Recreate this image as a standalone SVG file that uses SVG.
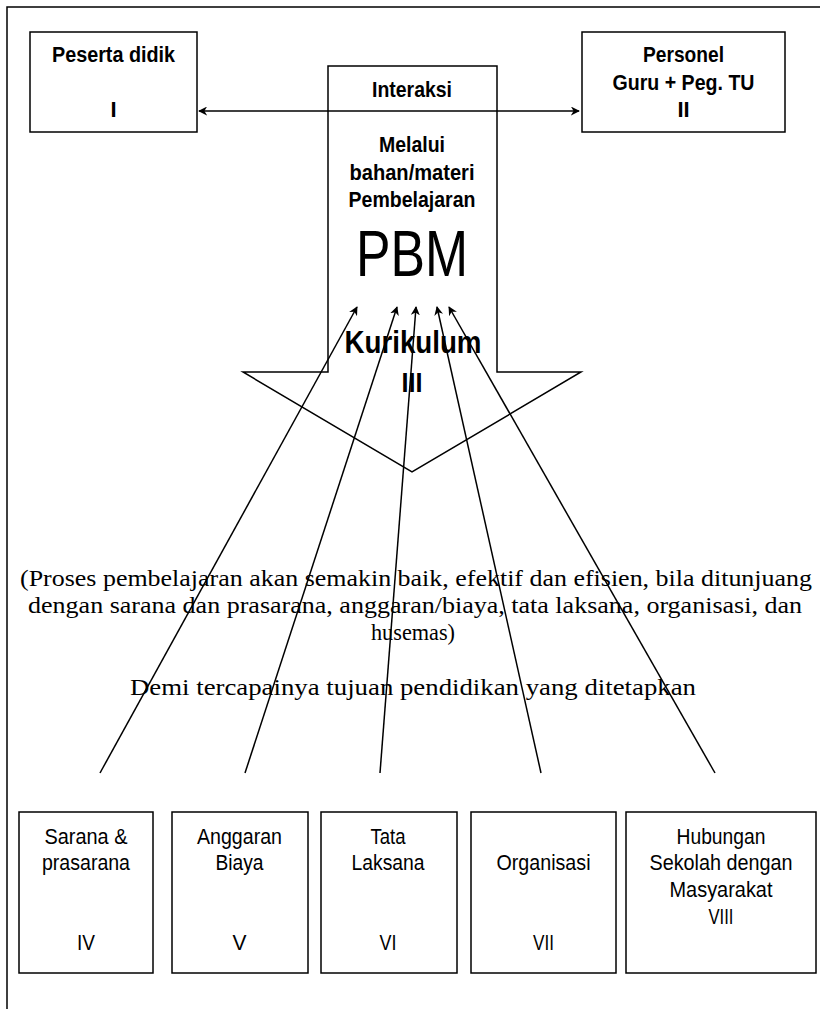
<svg xmlns="http://www.w3.org/2000/svg" width="820" height="1009" viewBox="0 0 820 1009">
<style>
.box{fill:#fff;stroke:#000;stroke-width:1.5}
.b{font-family:"Liberation Sans",Arial,sans-serif;font-weight:bold;text-anchor:middle;fill:#000}
.r{font-family:"Liberation Sans",Arial,sans-serif;text-anchor:middle;fill:#000}
.s{font-family:"Liberation Serif","Times New Roman",serif;font-size:24px;text-anchor:middle;fill:#000}
.ln{stroke:#000;stroke-width:1.5;fill:none}
</style>
<defs>
<marker id="ah" viewBox="0 0 10 10" refX="9" refY="5" markerWidth="9" markerHeight="9" orient="auto-start-reverse" markerUnits="userSpaceOnUse">
<path d="M0,0 L10,5 L0,10 L3,5 Z" fill="#000"/>
</marker>
</defs>
<rect width="820" height="1009" fill="#fff"/>
<path d="M7,1009 L7,7 L820,7" class="ln" stroke-width="1"/>
<g id="n-peserta">
<rect class="box" x="30" y="32" width="167" height="100"/>
<text class="b" x="113.5" y="62" style="font-size:22px" textLength="123" lengthAdjust="spacingAndGlyphs">Peserta didik</text>
<text class="b" x="113.5" y="117" style="font-size:22px">I</text>
</g>
<g id="n-personel">
<rect class="box" x="582" y="32" width="203" height="100"/>
<text class="b" x="683.5" y="62" style="font-size:22px" textLength="81" lengthAdjust="spacingAndGlyphs">Personel</text>
<text class="b" x="683.5" y="90" style="font-size:22px" textLength="142" lengthAdjust="spacingAndGlyphs">Guru + Peg. TU</text>
<text class="b" x="683.5" y="117" style="font-size:22px">II</text>
</g>
<g id="n-pbm">
<polygon class="box" points="328,66 497,66 497,372 581,372 412,472 243,372 328,372"/>
<text class="b" x="412" y="97" style="font-size:22px" textLength="80" lengthAdjust="spacingAndGlyphs">Interaksi</text>
<text class="b" x="412" y="152" style="font-size:22px" textLength="66" lengthAdjust="spacingAndGlyphs">Melalui</text>
<text class="b" x="412" y="180" style="font-size:22px" textLength="125" lengthAdjust="spacingAndGlyphs">bahan/materi</text>
<text class="b" x="412" y="207" style="font-size:22px" textLength="127" lengthAdjust="spacingAndGlyphs">Pembelajaran</text>
<text class="r" x="412" y="276" style="font-size:64px" textLength="112" lengthAdjust="spacingAndGlyphs">PBM</text>
<text class="b" x="413" y="353" style="font-size:32px" textLength="137" lengthAdjust="spacingAndGlyphs">Kurikulum</text>
<text class="b" x="412" y="392" style="font-size:28px" textLength="21" lengthAdjust="spacingAndGlyphs">III</text>
</g>
<g id="n-text">
<text class="s" x="416" y="586" textLength="792" lengthAdjust="spacingAndGlyphs">(Proses pembelajaran akan semakin baik, efektif dan efisien, bila ditunjuang</text>
<text class="s" x="415" y="613" textLength="774" lengthAdjust="spacingAndGlyphs">dengan sarana dan prasarana, anggaran/biaya, tata laksana, organisasi, dan</text>
<text class="s" x="413" y="640" textLength="84" lengthAdjust="spacingAndGlyphs">husemas)</text>
<text class="s" x="413" y="695" textLength="566" lengthAdjust="spacingAndGlyphs">Demi tercapainya tujuan pendidikan yang ditetapkan</text>
</g>
<g id="n-sarana">
<rect class="box" x="19" y="812" width="134" height="161"/>
<text class="r" x="86" y="844" style="font-size:22px" textLength="83" lengthAdjust="spacingAndGlyphs">Sarana &amp;</text>
<text class="r" x="86" y="870" style="font-size:22px" textLength="88" lengthAdjust="spacingAndGlyphs">prasarana</text>
<text class="r" x="86" y="950" style="font-size:22px" textLength="18" lengthAdjust="spacingAndGlyphs">IV</text>
</g>
<g id="n-anggaran">
<rect class="box" x="172" y="812" width="136" height="161"/>
<text class="r" x="239.5" y="844" style="font-size:22px" textLength="85" lengthAdjust="spacingAndGlyphs">Anggaran</text>
<text class="r" x="239.5" y="870" style="font-size:22px" textLength="48" lengthAdjust="spacingAndGlyphs">Biaya</text>
<text class="r" x="239.5" y="950" style="font-size:22px" textLength="14" lengthAdjust="spacingAndGlyphs">V</text>
</g>
<g id="n-tata">
<rect class="box" x="321" y="812" width="136" height="161"/>
<text class="r" x="388" y="844" style="font-size:22px" textLength="35" lengthAdjust="spacingAndGlyphs">Tata</text>
<text class="r" x="388" y="870" style="font-size:22px" textLength="73" lengthAdjust="spacingAndGlyphs">Laksana</text>
<text class="r" x="388" y="950" style="font-size:22px" textLength="17" lengthAdjust="spacingAndGlyphs">VI</text>
</g>
<g id="n-organisasi">
<rect class="box" x="471" y="812" width="145" height="161"/>
<text class="r" x="543.5" y="870" style="font-size:22px" textLength="94" lengthAdjust="spacingAndGlyphs">Organisasi</text>
<text class="r" x="543.5" y="950" style="font-size:22px" textLength="21" lengthAdjust="spacingAndGlyphs">VII</text>
</g>
<g id="n-husemas">
<rect class="box" x="626" y="812" width="190" height="161"/>
<text class="r" x="721" y="844" style="font-size:22px" textLength="89" lengthAdjust="spacingAndGlyphs">Hubungan</text>
<text class="r" x="721" y="870" style="font-size:22px" textLength="143" lengthAdjust="spacingAndGlyphs">Sekolah dengan</text>
<text class="r" x="721" y="897" style="font-size:22px" textLength="103" lengthAdjust="spacingAndGlyphs">Masyarakat</text>
<text class="r" x="721" y="924" style="font-size:22px" textLength="25" lengthAdjust="spacingAndGlyphs">VIII</text>
</g>
<g id="connectors">
<line class="ln" x1="199" y1="111" x2="579" y2="111" marker-start="url(#ah)" marker-end="url(#ah)"/>
<line class="ln" x1="100" y1="773" x2="357" y2="307" marker-end="url(#ah)"/>
<line class="ln" x1="245" y1="773" x2="397" y2="307" marker-end="url(#ah)"/>
<line class="ln" x1="380" y1="773" x2="416" y2="307" marker-end="url(#ah)"/>
<line class="ln" x1="541" y1="773" x2="437" y2="307" marker-end="url(#ah)"/>
<line class="ln" x1="715" y1="773" x2="449" y2="307" marker-end="url(#ah)"/>
</g>
</svg>
